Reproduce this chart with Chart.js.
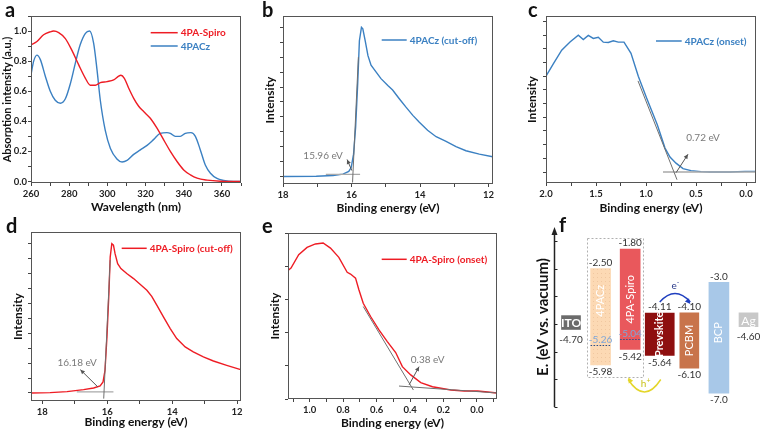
<!DOCTYPE html>
<html>
<head>
<meta charset="utf-8">
<title>4PACz / 4PA-Spiro</title>
<script src="https://cdn.jsdelivr.net/npm/chart.js@4.4.1/dist/chart.umd.min.js"></script>
<style>
  html, body { margin: 0; padding: 0; background: #fff; overflow: hidden; }
  #page { position: relative; width: 760px; height: 431px; }
  #page canvas { position: absolute; }
  .tag { position: absolute; font: bold 20px Lato, "Liberation Sans", sans-serif; line-height: 20px; color: #111; }
</style>
</head>
<body>
<div id="page">
  <canvas id="chA" width="246" height="216" style="left:0;top:0"></canvas>
  <canvas id="chB" width="248" height="216" style="left:250px;top:0"></canvas>
  <canvas id="chC" width="252" height="216" style="left:508px;top:0"></canvas>
  <canvas id="chD" width="246" height="215" style="left:0;top:216px"></canvas>
  <canvas id="chE" width="252" height="215" style="left:250px;top:216px"></canvas>
  <canvas id="chF" width="252" height="215" style="left:508px;top:216px"></canvas>
  <div class="tag" style="left:5px;top:-1px">a</div>
  <div class="tag" style="left:262px;top:-1px">b</div>
  <div class="tag" style="left:528px;top:-1px">c</div>
  <div class="tag" style="left:6px;top:215px">d</div>
  <div class="tag" style="left:262px;top:215px">e</div>
  <div class="tag" style="left:559px;top:214px">f</div>
</div>
<script>
// ---- panel a : absorption ----
const wlPACz = [260, 261.4, 263.1, 264.9, 267.5, 270.1, 272.7, 275.4, 278, 280.6, 283.2, 285.8, 288.5, 290.7, 292.8, 294.6, 296.3, 298.9, 301.6, 305, 307.7, 310.3, 313.8, 317.3, 320.8, 324.3, 327.7, 331.2, 333, 335.6, 338.2, 340.8, 343.8, 346.1, 348.7, 351.3, 354, 357.4, 360.9, 366.2, 370];
const absPACz = [0.71, 0.80, 0.84, 0.81, 0.70, 0.60, 0.54, 0.52, 0.55, 0.65, 0.785, 0.91, 0.985, 1.0, 0.92, 0.74, 0.54, 0.34, 0.22, 0.15, 0.13, 0.14, 0.18, 0.21, 0.24, 0.28, 0.32, 0.325, 0.32, 0.30, 0.30, 0.32, 0.325, 0.30, 0.21, 0.11, 0.055, 0.02, 0.007, 0.0, 0.0];
const wlSpiro = [260, 263.1, 266.6, 270.1, 271.9, 274.5, 278, 281.5, 285, 288.5, 291.1, 293.7, 296.3, 299.8, 303.3, 305.9, 307.1, 308.9, 311.2, 313.8, 316.4, 319, 322.5, 326, 329.5, 333, 336.5, 340, 343.5, 347, 352.2, 359.2, 370];
const absSpiro = [0.907, 0.93, 0.975, 0.995, 1.0, 0.99, 0.95, 0.87, 0.775, 0.686, 0.64, 0.64, 0.657, 0.664, 0.675, 0.70, 0.706, 0.686, 0.62, 0.553, 0.50, 0.465, 0.42, 0.354, 0.277, 0.20, 0.133, 0.077, 0.044, 0.022, 0.009, 0.002, 0.0];

// ---- panel b : 4PACz cut-off ----
const ebPACzCut = [18.0, 17.03, 16.54, 16.25, 16.08, 16.01, 15.94, 15.88, 15.82, 15.77, 15.71, 15.67, 15.60, 15.52, 15.43, 15.28, 15.14, 14.94, 14.80, 14.60, 14.41, 14.21, 14.02, 13.78, 13.53, 13.24, 12.95, 12.66, 12.27, 11.88];
const intPACzCut = [0.0, 0.002, 0.007, 0.016, 0.034, 0.06, 0.15, 0.33, 0.62, 0.91, 1.0, 0.99, 0.91, 0.81, 0.746, 0.70, 0.656, 0.61, 0.58, 0.52, 0.465, 0.41, 0.364, 0.31, 0.267, 0.236, 0.20, 0.173, 0.15, 0.133];
const fitPACzCutX = [15.97, 15.80], fitPACzCutY = [-0.04, 0.80];
const basePACzCutX = [16.75, 15.75], basePACzCutY = [0.015, 0.015];

// ---- panel c : 4PACz onset ----
const ebPACzOn = [2.0, 1.927, 1.843, 1.76, 1.677, 1.627, 1.577, 1.527, 1.477, 1.427, 1.377, 1.327, 1.277, 1.22, 1.15, 1.077, 0.993, 0.887, 0.81, 0.76, 0.70, 0.63, 0.55, 0.45, 0.36, 0.16, 0.01, -0.1];
const intPACzOn = [0.70, 0.79, 0.89, 0.95, 1.0, 0.968, 0.998, 0.976, 0.985, 0.949, 0.947, 0.959, 0.949, 0.949, 0.867, 0.70, 0.54, 0.345, 0.175, 0.11, 0.065, 0.025, 0.01, 0.003, 0.0, 0.0, 0.005, 0.005];
const fitPACzOnX = [1.08, 0.69], fitPACzOnY = [0.666, -0.056];
const basePACzOnX = [0.83, -0.1], basePACzOnY = [0.0, 0.0];

// ---- panel d : 4PA-Spiro cut-off ----
const ebSpiroCut = [18.34, 17.76, 17.24, 16.73, 16.42, 16.22, 16.13, 16.07, 16.01, 15.95, 15.91, 15.86, 15.81, 15.76, 15.68, 15.58, 15.40, 15.19, 14.99, 14.78, 14.63, 14.47, 14.27, 14.06, 13.86, 13.60, 13.35, 13.04, 12.73, 12.32, 11.89];
const intSpiroCut = [0.0, 0.002, 0.009, 0.022, 0.033, 0.047, 0.074, 0.152, 0.375, 0.665, 0.91, 1.0, 0.99, 0.933, 0.866, 0.833, 0.80, 0.766, 0.728, 0.688, 0.647, 0.587, 0.509, 0.431, 0.364, 0.308, 0.275, 0.241, 0.214, 0.185, 0.156];
const fitSpiroCutX = [16.11, 15.91], fitSpiroCutY = [-0.038, 0.89];
const baseSpiroCutX = [16.94, 15.81], baseSpiroCutY = [0.007, 0.007];

// ---- panel e : 4PA-Spiro onset ----
const ebSpiroOn = [1.13, 1.112, 1.066, 1.016, 0.966, 0.92, 0.876, 0.826, 0.776, 0.756, 0.726, 0.706, 0.68, 0.636, 0.586, 0.536, 0.486, 0.446, 0.396, 0.336, 0.266, 0.156, 0.076, -0.004, -0.064, -0.124];
const intSpiroOn = [0.775, 0.789, 0.869, 0.913, 0.934, 0.94, 0.909, 0.853, 0.763, 0.753, 0.728, 0.658, 0.577, 0.497, 0.416, 0.346, 0.28, 0.195, 0.145, 0.099, 0.074, 0.054, 0.048, 0.048, 0.042, 0.036];
const fitSpiroOnX = [0.68, 0.38], fitSpiroOnY = [0.557, 0.054];
const baseSpiroOnX = [0.466, -0.124], baseSpiroOnY = [0.078, 0.036];

// ---- panel f : energy levels ----
const levelNames = ['ITO', '4PACz', '4PA-Spiro', 'Prevskite', 'PCBM', 'BCP', 'Ag'];
const levelUpper = [null, -2.50, -1.80, -4.11, -4.10, -3.0, null];
const levelLower = [-4.70, -5.98, -5.42, -5.64, -6.10, -7.0, -4.60];
const upperText = ['', '-2.50', '-1.80', '-4.11', '-4.10', '-3.0', ''];
const lowerText = ['-4.70', '-5.98', '-5.42', '-5.64', '-6.10', '-7.0', '-4.60'];
const homoMark = [null, -5.26, -5.04, null, null, null, null];
const homoText = ['', '-5.26', '-5.04', '', '', '', ''];
const energyTicks = [-7.5, -6.5, -5.5, -4.5, -3.5, -2.5, -1.5];

const RED = '#ee1c24';
const BLUE = '#3b80c2';
const FONT = 'Lato, "Open Sans", "Liberation Sans", sans-serif';
Chart.defaults.font.family = FONT;
Chart.defaults.color = '#222';

const TICK_FONT = { family: FONT, size: 9.5, weight: 'bold' };
const TITLE_FONT = { family: FONT, size: 12, weight: 'bold' };

function pts(xs, ys) { return xs.map((x, i) => ({ x: x, y: ys[i] })); }
function isMajor(v, major) { let r = v / major; return Math.abs(r - Math.round(r)) < 1e-6; }
function fmtInt(v) { return String(Math.round(v)); }
function fmt1(v) { return (Math.abs(v) < 1e-9 ? 0 : v).toFixed(1); }

function arrowHead(ctx, fx, fy, x, y, size) {
  const ang = Math.atan2(y - fy, x - fx);
  ctx.beginPath();
  ctx.moveTo(x, y);
  ctx.lineTo(x - size * Math.cos(ang - 0.45), y - size * Math.sin(ang - 0.45));
  ctx.lineTo(x - size * Math.cos(ang + 0.45), y - size * Math.sin(ang + 0.45));
  ctx.closePath();
  ctx.fill();
}

function axis(o) {
  return {
    type: 'linear', min: o.min, max: o.max, reverse: !!o.reverse,
    afterFit: function (s) {
      if (s.isHorizontal()) s.height = o.size; else s.width = o.size;
      s.paddingLeft = 0; s.paddingRight = 0; s.paddingTop = 0; s.paddingBottom = 0;
    },
    border: { display: false },
    grid: { drawOnChartArea: false, drawTicks: true, tickLength: 3, color: '#444', lineWidth: 1 },
    ticks: {
      stepSize: o.step, includeBounds: false, autoSkip: false, maxRotation: 0,
      font: TICK_FONT, color: '#222', padding: o.tickPad || 1,
      callback: function (v) { return (o.fmt && isMajor(v, o.major)) ? o.fmt(v) : ''; }
    },
    title: { display: !!o.title, text: o.title, font: o.titleFont || TITLE_FONT, color: '#111', padding: o.titlePad || 0 }
  };
}

// frame round the plot area, legend and the arrow note
function framePlugin(cfg) {
  return {
    id: 'frame',
    afterDatasetsDraw(chart) {
      const a = chart.chartArea, ctx = chart.ctx, xs = chart.scales.x, ys = chart.scales.y;
      ctx.save();
      ctx.strokeStyle = '#555';
      ctx.lineWidth = 1;
      ctx.strokeRect(Math.round(a.left) + 0.5, Math.round(a.top) + 0.5, Math.round(a.right - a.left) - 1, Math.round(a.bottom - a.top) - 1);

      let lg = cfg.legend;
      let row = 0;
      chart.data.datasets.forEach(ds => {
        if (ds.fit) return;
        let y = a.top + lg.dy + row * 13.3;
        ctx.strokeStyle = ds.borderColor;
        ctx.lineWidth = 1.5;
        ctx.beginPath();
        ctx.moveTo(a.left + lg.dx, y);
        ctx.lineTo(a.left + lg.dx + lg.len, y);
        ctx.stroke();
        ctx.fillStyle = ds.borderColor;
        ctx.font = 'bold 10px ' + FONT;
        ctx.textAlign = 'left';
        ctx.textBaseline = 'middle';
        ctx.fillText(ds.label, a.left + lg.dx + lg.len + 3, y + 0.5);
        row++;
      });

      let n = cfg.note;
      if (n) {
        let x1 = xs.getPixelForValue(n.from[0]), y1 = ys.getPixelForValue(n.from[1]);
        let x2 = xs.getPixelForValue(n.to[0]), y2 = ys.getPixelForValue(n.to[1]);
        ctx.strokeStyle = '#555';
        ctx.fillStyle = '#555';
        ctx.lineWidth = 1;
        ctx.beginPath();
        ctx.moveTo(x1, y1);
        ctx.lineTo(x2, y2);
        ctx.stroke();
        arrowHead(ctx, x1, y1, x2, y2, 5);
        ctx.fillStyle = '#7a7a7a';
        ctx.font = '10px ' + FONT;
        ctx.textAlign = 'center';
        ctx.textBaseline = 'middle';
        ctx.fillText(n.text, xs.getPixelForValue(n.at[0]), ys.getPixelForValue(n.at[1]));
      }
      ctx.restore();
    }
  };
}

function spectrumChart(id, o) {
  let sets = o.series.map(s => ({
    label: s.label, data: pts(s.x, s.y), borderColor: s.color, borderWidth: 1.4,
    pointRadius: 0, order: 1, cubicInterpolationMode: s.smooth ? 'monotone' : 'default', tension: 0
  }));
  (o.fits || []).forEach(f => sets.push({
    label: '', fit: true, data: pts(f.x, f.y), borderColor: f.color, borderWidth: f.w, pointRadius: 0, order: 0
  }));
  return new Chart(document.getElementById(id), {
    type: 'line',
    data: { datasets: sets },
    options: {
      responsive: false, animation: false, events: [],
      layout: { padding: o.pad },
      plugins: { legend: { display: false }, tooltip: { enabled: false } },
      scales: { x: axis(o.x), y: axis(o.y) }
    },
    plugins: [framePlugin({ legend: o.legend, note: o.note })]
  });
}

const FIT_DARK = '#6f6f6f';
const FIT_LIGHT = '#a9a9a9';

spectrumChart('chA', {
  pad: { top: 16, right: 5, left: 0, bottom: 0 },
  series: [
    { label: '4PA-Spiro', x: wlSpiro, y: absSpiro, color: RED, smooth: true },
    { label: '4PACz', x: wlPACz, y: absPACz, color: BLUE, smooth: true }
  ],
  x: { min: 260, max: 370, step: 10, major: 20, fmt: fmtInt, size: 33, tickPad: 2, title: 'Wavelength (nm)', titlePad: { top: 0, bottom: 2 } },
  y: { min: -0.01, max: 1.1, step: 0.1, major: 0.2, fmt: fmt1, size: 31, tickPad: 1, title: 'Absorption intensity (a.u.)',
       titleFont: { family: FONT, size: 11, weight: 'bold' }, titlePad: { top: 0.5, bottom: 0 } },
  legend: { dx: 119.7, dy: 16.7, len: 27 }
});

spectrumChart('chB', {
  pad: { top: 16, right: 5, left: 0, bottom: 0 },
  series: [{ label: '4PACz (cut-off)', x: ebPACzCut, y: intPACzCut, color: BLUE }],
  fits: [
    { x: fitPACzCutX, y: fitPACzCutY, color: FIT_DARK, w: 1 },
    { x: basePACzCutX, y: basePACzCutY, color: FIT_LIGHT, w: 1.2 }
  ],
  x: { min: 11.87, max: 18, reverse: true, step: 1, major: 2, fmt: fmtInt, size: 32, tickPad: 2, title: 'Binding energy (eV)', titlePad: { top: 0, bottom: 1 } },
  y: { min: -0.05, max: 1.076, step: 0.1, size: 33, title: 'Intensity', titlePad: { top: 12.8, bottom: 0 } },
  legend: { dx: 98.7, dy: 24, len: 25 },
  note: { text: '15.96 eV', at: [16.83, 0.14], from: [15.99, 0.04], to: [16.13, 0.114] }
});

spectrumChart('chC', {
  pad: { top: 16, right: 4, left: 0, bottom: 0 },
  series: [{ label: '4PACz (onset)', x: ebPACzOn, y: intPACzOn, color: BLUE }],
  fits: [
    { x: fitPACzOnX, y: fitPACzOnY, color: FIT_DARK, w: 1 },
    { x: basePACzOnX, y: basePACzOnY, color: FIT_LIGHT, w: 1.6 }
  ],
  x: { min: -0.1, max: 2.0, reverse: true, step: 0.25, major: 0.5, fmt: fmt1, size: 33, tickPad: 2, title: 'Binding energy (eV)', titlePad: { top: 0, bottom: 1 } },
  y: { min: -0.08, max: 1.14, step: 0.1, size: 38, title: 'Intensity', titlePad: { top: 17.3, bottom: 0 } },
  legend: { dx: 110, dy: 25, len: 25.7 },
  note: { text: '0.72 eV', at: [0.43, 0.248], from: [0.70, -0.005], to: [0.58, 0.13] }
});

spectrumChart('chD', {
  pad: { top: 16, right: 5, left: 0, bottom: 0 },
  series: [{ label: '4PA-Spiro (cut-off)', x: ebSpiroCut, y: intSpiroCut, color: RED }],
  fits: [
    { x: fitSpiroCutX, y: fitSpiroCutY, color: FIT_DARK, w: 1 },
    { x: baseSpiroCutX, y: baseSpiroCutY, color: FIT_LIGHT, w: 1.2 }
  ],
  x: { min: 11.88, max: 18.35, reverse: true, step: 1, major: 2, fmt: fmtInt, size: 30, tickPad: 2, title: 'Binding energy (eV)', titlePad: { top: 0, bottom: 2 } },
  y: { min: -0.054, max: 1.078, step: 0.1, size: 31, title: 'Intensity', titlePad: { top: 10.8, bottom: 0 } },
  legend: { dx: 90.7, dy: 16.3, len: 25 },
  note: { text: '16.18 eV', at: [16.93, 0.20], from: [16.29, 0.04], to: [16.83, 0.156] }
});

spectrumChart('chE', {
  pad: { top: 17, right: 5, left: 0, bottom: 0 },
  series: [{ label: '4PA-Spiro (onset)', x: ebSpiroOn, y: intSpiroOn, color: RED }],
  fits: [
    { x: fitSpiroOnX, y: fitSpiroOnY, color: FIT_DARK, w: 1 },
    { x: baseSpiroOnX, y: baseSpiroOnY, color: FIT_DARK, w: 1 }
  ],
  x: { min: -0.12, max: 1.13, reverse: true, step: 0.1, major: 0.2, fmt: fmt1, size: 32, tickPad: 2, title: 'Binding energy (eV)', titlePad: { top: 0, bottom: 0.5 } },
  y: { min: 0, max: 1.0, step: 0.2, size: 38, title: 'Intensity', titlePad: { top: 17.8, bottom: 0 } },
  legend: { dx: 93.7, dy: 26.3, len: 25 },
  note: { text: '0.38 eV', at: [0.295, 0.235], from: [0.406, 0.085], to: [0.346, 0.195] }
});

// ---- panel f ----
const ELECTRODE_H = 0.5;
const levelColors = ['#6b6b6b', '#fcd9b4', '#e9585c', '#8e0f0f', '#c8744b', '#a8c8e8', '#c8c8c8'];
const levelWidths = [19, 20, 20, 29, 19, 20, 19];
const nameShift = [0, -16, 0, 0, 0, -5, 0];

function dotFill(bg, dot) {
  const c = document.createElement('canvas');
  c.width = 4; c.height = 4;
  const g = c.getContext('2d');
  g.fillStyle = bg; g.fillRect(0, 0, 4, 4);
  g.fillStyle = dot; g.fillRect(1, 1, 1, 1);
  return g.createPattern(c, 'repeat');
}

const levelSets = levelNames.map((name, i) => {
  let lo = levelLower[i];
  let hi = levelUpper[i] === null ? lo + ELECTRODE_H : levelUpper[i];
  return {
    label: name,
    data: [{ x: i, y: [lo, hi] }],
    backgroundColor: i === 1 ? dotFill(levelColors[i], '#f0c7a0') : levelColors[i],
    borderWidth: 0, barThickness: levelWidths[i], grouped: false
  };
});

const levelPlugin = {
  id: 'levels',
  afterDatasetsDraw(chart) {
    const ctx = chart.ctx, xs = chart.scales.x, ys = chart.scales.y, area = chart.chartArea;
    ctx.save();
    // vacuum-referenced energy axis with arrow
    const ax = Math.round(area.left) + 0.5;
    ctx.strokeStyle = '#222'; ctx.fillStyle = '#222'; ctx.lineWidth = 1.5;
    ctx.beginPath(); ctx.moveTo(ax, area.bottom); ctx.lineTo(ax, area.top + 6); ctx.stroke();
    ctx.beginPath(); ctx.moveTo(ax, area.top); ctx.lineTo(ax - 3, area.top + 8); ctx.lineTo(ax + 3, area.top + 8); ctx.closePath(); ctx.fill();
    ctx.lineWidth = 1;
    energyTicks.forEach(v => {
      let y = Math.round(ys.getPixelForValue(v)) + 0.5;
      ctx.beginPath(); ctx.moveTo(ax, y); ctx.lineTo(ax + 3, y); ctx.stroke();
    });

    // dotted frame round the two HTMs
    ctx.strokeStyle = '#b0b0b0'; ctx.setLineDash([2, 2]);
    let fl = xs.getPixelForValue(1) - 14, fr = xs.getPixelForValue(2) + 12;
    let ft = ys.getPixelForValue(-1.38), fb = ys.getPixelForValue(-6.4);
    ctx.strokeRect(Math.round(fl) + 0.5, Math.round(ft) + 0.5, Math.round(fr - fl), Math.round(fb - ft));
    ctx.setLineDash([]);

    levelNames.forEach((name, i) => {
      let x = xs.getPixelForValue(i);
      let lo = levelLower[i];
      let hi = levelUpper[i] === null ? lo + ELECTRODE_H : levelUpper[i];
      let yHi = ys.getPixelForValue(hi), yLo = ys.getPixelForValue(lo);
      ctx.font = '10px ' + FONT; ctx.fillStyle = '#333'; ctx.textAlign = 'center';
      if (upperText[i]) { ctx.textBaseline = 'bottom'; ctx.fillText(upperText[i], x, yHi - 1); }
      ctx.textBaseline = 'top';
      ctx.fillText(lowerText[i], x, yLo + (levelUpper[i] === null ? 5 : 2));

      if (homoMark[i] !== null) {
        let yh = Math.round(ys.getPixelForValue(homoMark[i])) + 0.5;
        let w = levelWidths[i] / 2;
        ctx.strokeStyle = '#2c4f8c'; ctx.lineWidth = 1.2; ctx.setLineDash([1.5, 1.5]);
        ctx.beginPath(); ctx.moveTo(x - w, yh); ctx.lineTo(x + w, yh); ctx.stroke();
        ctx.setLineDash([]);
        ctx.fillStyle = '#7ea6d8'; ctx.textBaseline = 'bottom';
        ctx.fillText(homoText[i], x, yh - 1);
      }

      ctx.fillStyle = '#fff';
      if (levelUpper[i] === null) {
        ctx.font = (i === 0 ? 'bold ' : '') + '12px ' + FONT;
        ctx.textBaseline = 'middle';
        ctx.fillText(name, x, (yHi + yLo) / 2 + 1);
      } else {
        ctx.save();
        ctx.translate(x, (yHi + yLo) / 2 + nameShift[i]);
        ctx.rotate(-Math.PI / 2);
        ctx.font = (i === 3 ? 'bold ' : '') + '11px ' + FONT; ctx.textBaseline = 'middle';
        ctx.fillText(name, 0, 0);
        ctx.restore();
      }
    });

    // electron transfer arrow (perovskite -> PCBM)
    let sx = xs.getPixelForValue(3), ex = xs.getPixelForValue(4) + 1;
    let sy = ys.getPixelForValue(levelUpper[3]) - 11;
    ctx.strokeStyle = '#1f3fbf'; ctx.fillStyle = '#1f3fbf'; ctx.lineWidth = 1.5;
    ctx.beginPath(); ctx.moveTo(sx, sy); ctx.quadraticCurveTo((sx + ex) / 2, sy - 17, ex, sy); ctx.stroke();
    arrowHead(ctx, (sx + ex) / 2, sy - 17, ex, sy + 2, 6);
    ctx.fillStyle = '#2a3a8a'; ctx.font = '10px ' + FONT; ctx.textBaseline = 'alphabetic'; ctx.textAlign = 'center';
    ctx.fillText('e', (sx + ex) / 2 - 1, sy - 13);
    ctx.font = '7px ' + FONT; ctx.fillText('-', (sx + ex) / 2 + 3, sy - 17);

    // hole transfer arrow (perovskite -> 4PA-Spiro)
    let hx = xs.getPixelForValue(3) + 1, hx2 = xs.getPixelForValue(2) - 2;
    let hy = ys.getPixelForValue(levelLower[3]) + 24;
    ctx.strokeStyle = '#e4d62a'; ctx.fillStyle = '#e4d62a';
    ctx.beginPath(); ctx.moveTo(hx, hy); ctx.quadraticCurveTo((hx + hx2) / 2, hy + 25, hx2, hy); ctx.stroke();
    arrowHead(ctx, (hx + hx2) / 2, hy + 25, hx2, hy - 2, 6);
    ctx.fillStyle = '#c9c21a'; ctx.font = '10px ' + FONT;
    ctx.fillText('h', (hx + hx2) / 2 - 1, hy + 8);
    ctx.font = '7px ' + FONT; ctx.fillText('+', (hx + hx2) / 2 + 4, hy + 4);
    ctx.restore();
  }
};

new Chart(document.getElementById('chF'), {
  type: 'bar',
  data: { datasets: levelSets },
  options: {
    responsive: false, animation: false, events: [],
    layout: { padding: { top: 11, bottom: 24, right: 0, left: 0 } },
    plugins: { legend: { display: false }, tooltip: { enabled: false } },
    scales: {
      x: { type: 'linear', min: -0.575, max: 6.389, offset: false, display: false },
      y: {
        type: 'linear', min: -7.5, max: -1.0,
        afterFit: function (s) { s.width = 46; s.paddingTop = 0; s.paddingBottom = 0; },
        border: { display: false }, grid: { display: false },
        ticks: { display: false },
        title: { display: true, text: 'E. (eV vs. vacuum)', font: { family: FONT, size: 15, weight: 'bold' }, color: '#111', padding: { top: 26, bottom: 0 } }
      }
    }
  },
  plugins: [levelPlugin]
});
</script>
</body>
</html>
